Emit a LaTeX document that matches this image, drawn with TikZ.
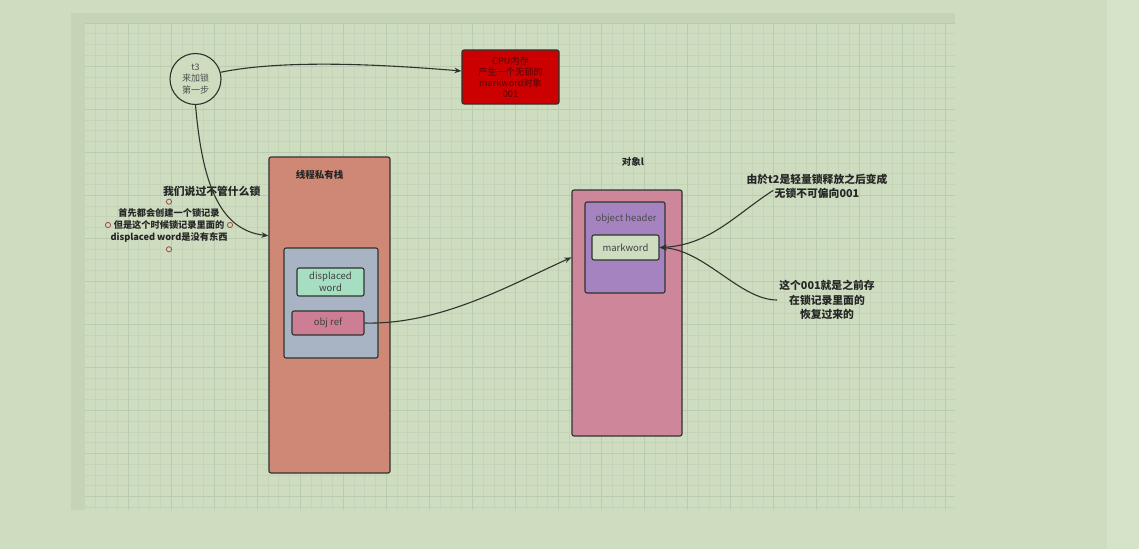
\documentclass[tikz,border=0pt]{standalone}
\usepackage{fontspec}
\setmainfont{Noto Sans CJK SC}
\usetikzlibrary{arrows.meta,positioning,calc}
\definecolor{bgGreen}{RGB}{206,221,192}
\definecolor{stripGreen}{RGB}{213,227,200}
\definecolor{frameGreen}{RGB}{197,212,183}
\definecolor{gridMinor}{RGB}{197,212,184}
\definecolor{gridMajor}{RGB}{187,203,175}
\definecolor{lineDark}{RGB}{45,52,45}
\definecolor{cpuRed}{RGB}{204,0,0}
\definecolor{cpuText}{RGB}{70,10,10}
\definecolor{stackSalmon}{RGB}{206,136,117}
\definecolor{recordGrey}{RGB}{168,180,196}
\definecolor{wordMint}{RGB}{166,222,194}
\definecolor{refPink}{RGB}{205,126,148}
\definecolor{objPink}{RGB}{206,134,155}
\definecolor{headerPurple}{RGB}{165,131,192}
\definecolor{handleRed}{RGB}{160,70,70}
\newcommand{\boxfont}{\fontsize{9.5}{11.7}\selectfont}
\newcommand{\notefont}{\fontsize{10.8}{14.2}\selectfont\bfseries}

\begin{document}
\begin{tikzpicture}[x=1pt,y=-1pt,
  box/.style={draw=lineDark,line width=1.1pt,rounded corners=2pt,inner sep=0pt,align=center,text=black!75},
  note/.style={align=center,text=black!85,inner sep=0pt},
  link/.style={draw=lineDark,line width=1.1pt,-{Stealth[length=7pt,width=5.5pt]}}]
  \useasboundingbox (0,0) rectangle (1139,549);
  % canvas
  \fill[bgGreen] (0,0) rectangle (1139,549);
  \fill[stripGreen] (1107,0) rectangle (1139,549);
  \fill[frameGreen] (71,13) rectangle (955,510);
  \fill[bgGreen] (85,23) rectangle (955,510);
  \foreach \i in {-3,...,76}
    \draw[gridMinor,line width=0.6pt] ({128+10.76*\i},23) -- ({128+10.76*\i},510);
  \foreach \i in {0,...,45}
    \draw[gridMinor,line width=0.6pt] (85,{23+10.76*\i}) -- (955,{23+10.76*\i});
  \foreach \i in {0,...,19}
    \draw[gridMajor,line width=0.7pt] ({128+43.04*\i},23) -- ({128+43.04*\i},510);
  \foreach \i in {0,...,11}
    \draw[gridMajor,line width=0.7pt] (85,{23+43.04*\i}) -- (955,{23+43.04*\i});

  % thread and cpu
  \node[circle,draw=lineDark,line width=1.1pt,fill=bgGreen,minimum size=51pt,inner sep=0pt,
        align=center,text=black!70,font=\fontsize{9}{11.7}\selectfont] (t3) at (195.5,79) {t3\\来加锁\\第一步};
  \node[box,fill=cpuRed,text=cpuText,minimum width=97pt,minimum height=54pt,
        font=\fontsize{9.2}{10.8}\selectfont] (cpu) at (510.5,77) {CPU内存\\产生一个无锁的\\markword对象\\001};

  % thread stack
  \node[box,fill=stackSalmon,minimum width=121pt,minimum height=316pt] (stack) at (329.5,315) {};
  \node[note,font=\boxfont\bfseries] (stackLbl) at (319.5,175) {线程私有栈};
  \node[box,fill=recordGrey,minimum width=94pt,minimum height=110pt] (lockrec) at (331,303) {};
  \node[box,fill=wordMint,minimum width=67pt,minimum height=28pt,font=\boxfont] (dispword) at (330.5,282) {displaced\\word};
  \node[box,fill=refPink,minimum width=72pt,minimum height=24pt,font=\boxfont] (objref) at (328,323) {obj ref};

  % object
  \node[box,fill=objPink,minimum width=110pt,minimum height=246pt] (objbox) at (627,313) {};
  \node[note,font=\boxfont\bfseries] (objLbl) at (633,162) {对象l};
  \node[box,fill=headerPurple,minimum width=80pt,minimum height=91pt] (header) at (625,247.5) {};
  \node[note,font=\boxfont,text=black!70] (headerLbl) at (626,219) {object header};
  \node[box,fill=bgGreen,minimum width=67pt,minimum height=25pt,font=\boxfont] (markword) at (625.5,247.5) {markword};

  % notes
  \node[note,font=\notefont] (noteA) at (211.7,191.5) {我们说过不管什么锁};
  \node[note,font=\fontsize{9.2}{12}\selectfont\bfseries] (noteB) at (169,225)
    {首先都会创建一个锁记录\\但是这个时候锁记录里面的\\displaced word是没有东西};
  \foreach \hx/\hy in {169/201.7,108/225,230/225,169/249.3}
    \draw[handleRed,fill=bgGreen,line width=0.8pt] (\hx,\hy) circle (2.6pt);
  \node[note,font=\notefont] (noteC) at (817,186.3) {由於t2是轻量锁释放之后变成\\无锁不可偏向001};
  \node[note,font=\notefont] (noteD) at (827,300) {这个001就是之前存\\在锁记录里面的\\恢复过来的};

  % connectors
  \draw[link] (t3.15) .. controls (290,58) and (400,66) .. (cpu.173);
  \draw[link] (t3.south) .. controls (202,180) and (218,230) .. ($(stack.north west)!0.25!(stack.south west)$);
  \draw[link] (objref.east) .. controls (440,325) and (510,285) .. ($(objbox.north west)!0.275!(objbox.south west)$);
  \draw[link] ([xshift=27pt,yshift=-4pt]noteC.west) .. controls (735,215) and (710,245) .. (markword.east);
  \draw[link] ([xshift=-2pt]noteD.west) .. controls (740,300) and (705,250) .. (markword.east);
\end{tikzpicture}
\end{document}
